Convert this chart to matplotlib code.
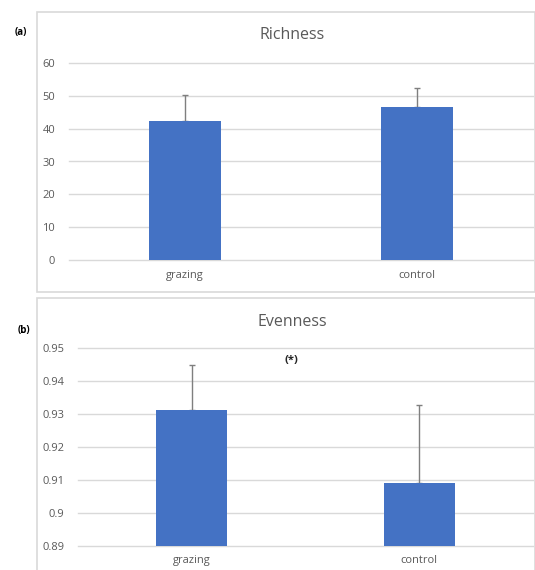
import numpy as np
import matplotlib
matplotlib.use('Agg')
import matplotlib.pyplot as plt
from matplotlib.patches import Rectangle

# group means and upper standard errors
groups = ['grazing', 'control']
richness = [42.2, 46.5]
richness_err = [8.0, 5.8]
evenness = [0.9312, 0.9090]
evenness_err = [0.0137, 0.0238]

W, H = 535, 570
BAR_COLOR = '#4472C4'
GRID_COLOR = '#d9d9d9'
TEXT_COLOR = '#595959'
ERR_COLOR = '#7f7f7f'

plt.rcParams['font.family'] = ['Open Sans', 'DejaVu Sans']

fig = plt.figure(figsize=(W / 100, H / 100), dpi=100)


def px_box(x0, y0, x1, y1):
    # pixel box (top-left origin) -> figure fraction [left, bottom, width, height]
    return [x0 / W, 1 - y1 / H, (x1 - x0) / W, (y1 - y0) / H]


def frame(x0, y0, x1, y1):
    l, b, w, h = px_box(x0, y0, x1, y1)
    fig.add_artist(Rectangle((l, b), w, h, transform=fig.transFigure,
                             fill=False, edgecolor=GRID_COLOR, linewidth=1.2))


def bar_panel(ax, values, errs, ylim, ticks, ticklabels):
    x = np.arange(len(groups))
    ax.errorbar(x, values, yerr=[np.zeros(len(errs)), errs], fmt='none',
                ecolor=ERR_COLOR, elinewidth=1, capsize=2, capthick=1, zorder=2)
    ax.bar(x, values, width=0.31, color=BAR_COLOR, zorder=3)
    ax.set_xlim(-0.5, 1.5)
    ax.set_ylim(*ylim)
    ax.set_yticks(ticks)
    ax.set_yticklabels(ticklabels)
    ax.set_xticks(x)
    ax.set_xticklabels(groups)
    ax.grid(axis='y', color=GRID_COLOR, linewidth=1, zorder=0)
    for gl in ax.get_ygridlines():
        gl.set_clip_on(False)
    ax.set_axisbelow(True)
    for s in ax.spines.values():
        s.set_visible(False)
    ax.tick_params(axis='both', length=0, colors=TEXT_COLOR, labelsize=8)
    ax.tick_params(axis='y', pad=10)
    ax.tick_params(axis='x', pad=7)


# (a) richness
frame(37, 12.5, 534.5, 291.5)
ax1 = fig.add_axes(px_box(69, 62.7, 533, 260.3))
bar_panel(ax1, richness, richness_err, (0, 60), np.arange(0, 61, 10),
          [str(v) for v in range(0, 61, 10)])
fig.text(292 / W, 1 - 35 / H, 'Richness', ha='center', va='center',
         fontsize=11.5, color=TEXT_COLOR)
fig.text(21 / W, 1 - 32 / H, '(a)', ha='center', va='center',
         fontsize=7, fontweight='bold', color='black')

# (b) evenness
frame(37, 298, 534.5, 575)
ax2 = fig.add_axes(px_box(78, 348.3, 533, 545.7))
ev_ticks = [0.89, 0.90, 0.91, 0.92, 0.93, 0.94, 0.95]
bar_panel(ax2, evenness, evenness_err, (0.89, 0.95), ev_ticks,
          ['0.89', '0.9', '0.91', '0.92', '0.93', '0.94', '0.95'])
ax2.text(0.44, 0.9464, '(*)', ha='center', va='center', fontsize=8,
         fontweight='bold', color='#262626')
fig.text(292 / W, 1 - 322 / H, 'Evenness', ha='center', va='center',
         fontsize=11.5, color=TEXT_COLOR)
fig.text(24 / W, 1 - 330 / H, '(b)', ha='center', va='center',
         fontsize=7, fontweight='bold', color='black')

fig.savefig('out.png', dpi=100, facecolor='white')
